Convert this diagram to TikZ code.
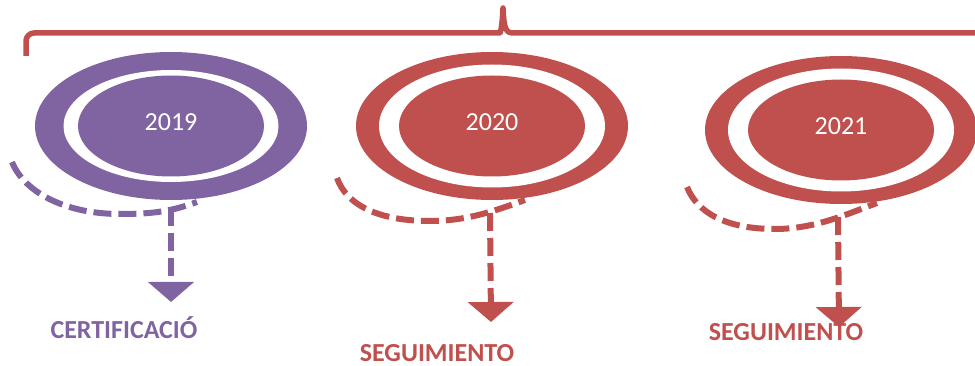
\documentclass[tikz,border=0pt]{standalone}
\usepackage{fontspec}
\setmainfont{Carlito}
\usetikzlibrary{shapes.geometric, arrows.meta}
\definecolor{certcol}{HTML}{8064A2}
\definecolor{segcol}{HTML}{C0504D}

\begin{document}
\begin{tikzpicture}[
        x=1pt, y=-1pt,
        ring/.style={ellipse, inner sep=0pt, minimum width=272pt, minimum height=148pt},
        gap/.style={ellipse, inner sep=0pt, fill=white, minimum width=226pt, minimum height=123pt},
        year/.style={ellipse, inner sep=0pt, minimum width=186pt, minimum height=101pt, text=white, text depth=8pt, font=\fontsize{26}{30}\selectfont},
        stage/.style={anchor=base, inner sep=0pt, font=\fontsize{26}{30}\selectfont\bfseries},
        brace/.style={line width=5.5pt, segcol, line join=round},
        dline/.style={line width=6pt, dash pattern=on 18pt off 7pt},
        arrow/.style={dline, -{Triangle[width=45pt, length=20pt]}}
    ]
    \useasboundingbox (0,0) rectangle (975,366);
    \clip (0,0) rectangle (975,366);

    % Top bracket
    \draw[brace] (26,56) [rounded corners=8pt] -- (26,33) -- (492,33) [sharp corners]
        .. controls (500,33) and (502,30) .. (503,8)
        .. controls (504,30) and (506,33) .. (514,33) -- (985,33);

    % 2019
    \node[ring, fill=certcol] (r2019) at (171,126) {};
    \node[gap, minimum width=215pt, minimum height=112pt] (g2019) at (r2019.center) {};
    \node[year, fill=certcol] (y2019) at (r2019.center) {2019};
    \coordinate (s2019) at (12,162);
    \coordinate (b2019) at (120,214);
    \coordinate (e2019) at (197,202);
    \coordinate (j2019) at (171,208);
    \coordinate (t2019) at (171,302);
    \draw[dline, certcol] (s2019) .. controls +(12,30) and +(-55,0) .. (b2019)
        .. controls +(35,0) and +(-25,9) .. (e2019);
    \draw[arrow, certcol] (j2019) -- (t2019);
    \node[stage, text=certcol] (l2019) at (124,338) {CERTIFICACIÓ};

    % 2020
    \node[ring, fill=segcol] (r2020) at (492,126) {};
    \node[gap] (g2020) at (r2020.center) {};
    \node[year, fill=segcol] (y2020) at (r2020.center) {2020};
    \coordinate (s2020) at (337,178);
    \coordinate (b2020) at (430,221);
    \coordinate (e2020) at (525,200);
    \coordinate (j2020) at (490,213);
    \coordinate (t2020) at (491,322);
    \draw[dline, segcol] (s2020) .. controls +(10,28) and +(-50,0) .. (b2020)
        .. controls +(38,0) and +(-28,10) .. (e2020);
    \draw[arrow, segcol] (j2020) -- (t2020);
    \node[stage, text=segcol] (l2020) at (437,361) {SEGUIMIENTO};

    % 2021
    \node[ring, fill=segcol] (r2021) at (841,130) {};
    \node[gap] (g2021) at (r2021.center) {};
    \node[year, fill=segcol] (y2021) at (r2021.center) {2021};
    \coordinate (s2021) at (687,187);
    \coordinate (b2021) at (775,229);
    \coordinate (e2021) at (877,203);
    \coordinate (j2021) at (838,217);
    \coordinate (t2021) at (839,327);
    \draw[dline, segcol] (s2021) .. controls +(10,25) and +(-50,0) .. (b2021)
        .. controls +(40,0) and +(-30,11) .. (e2021);
    \draw[arrow, segcol] (j2021) -- (t2021);
    \node[stage, text=segcol] (l2021) at (786,340) {SEGUIMIENTO};

\end{tikzpicture}
\end{document}
